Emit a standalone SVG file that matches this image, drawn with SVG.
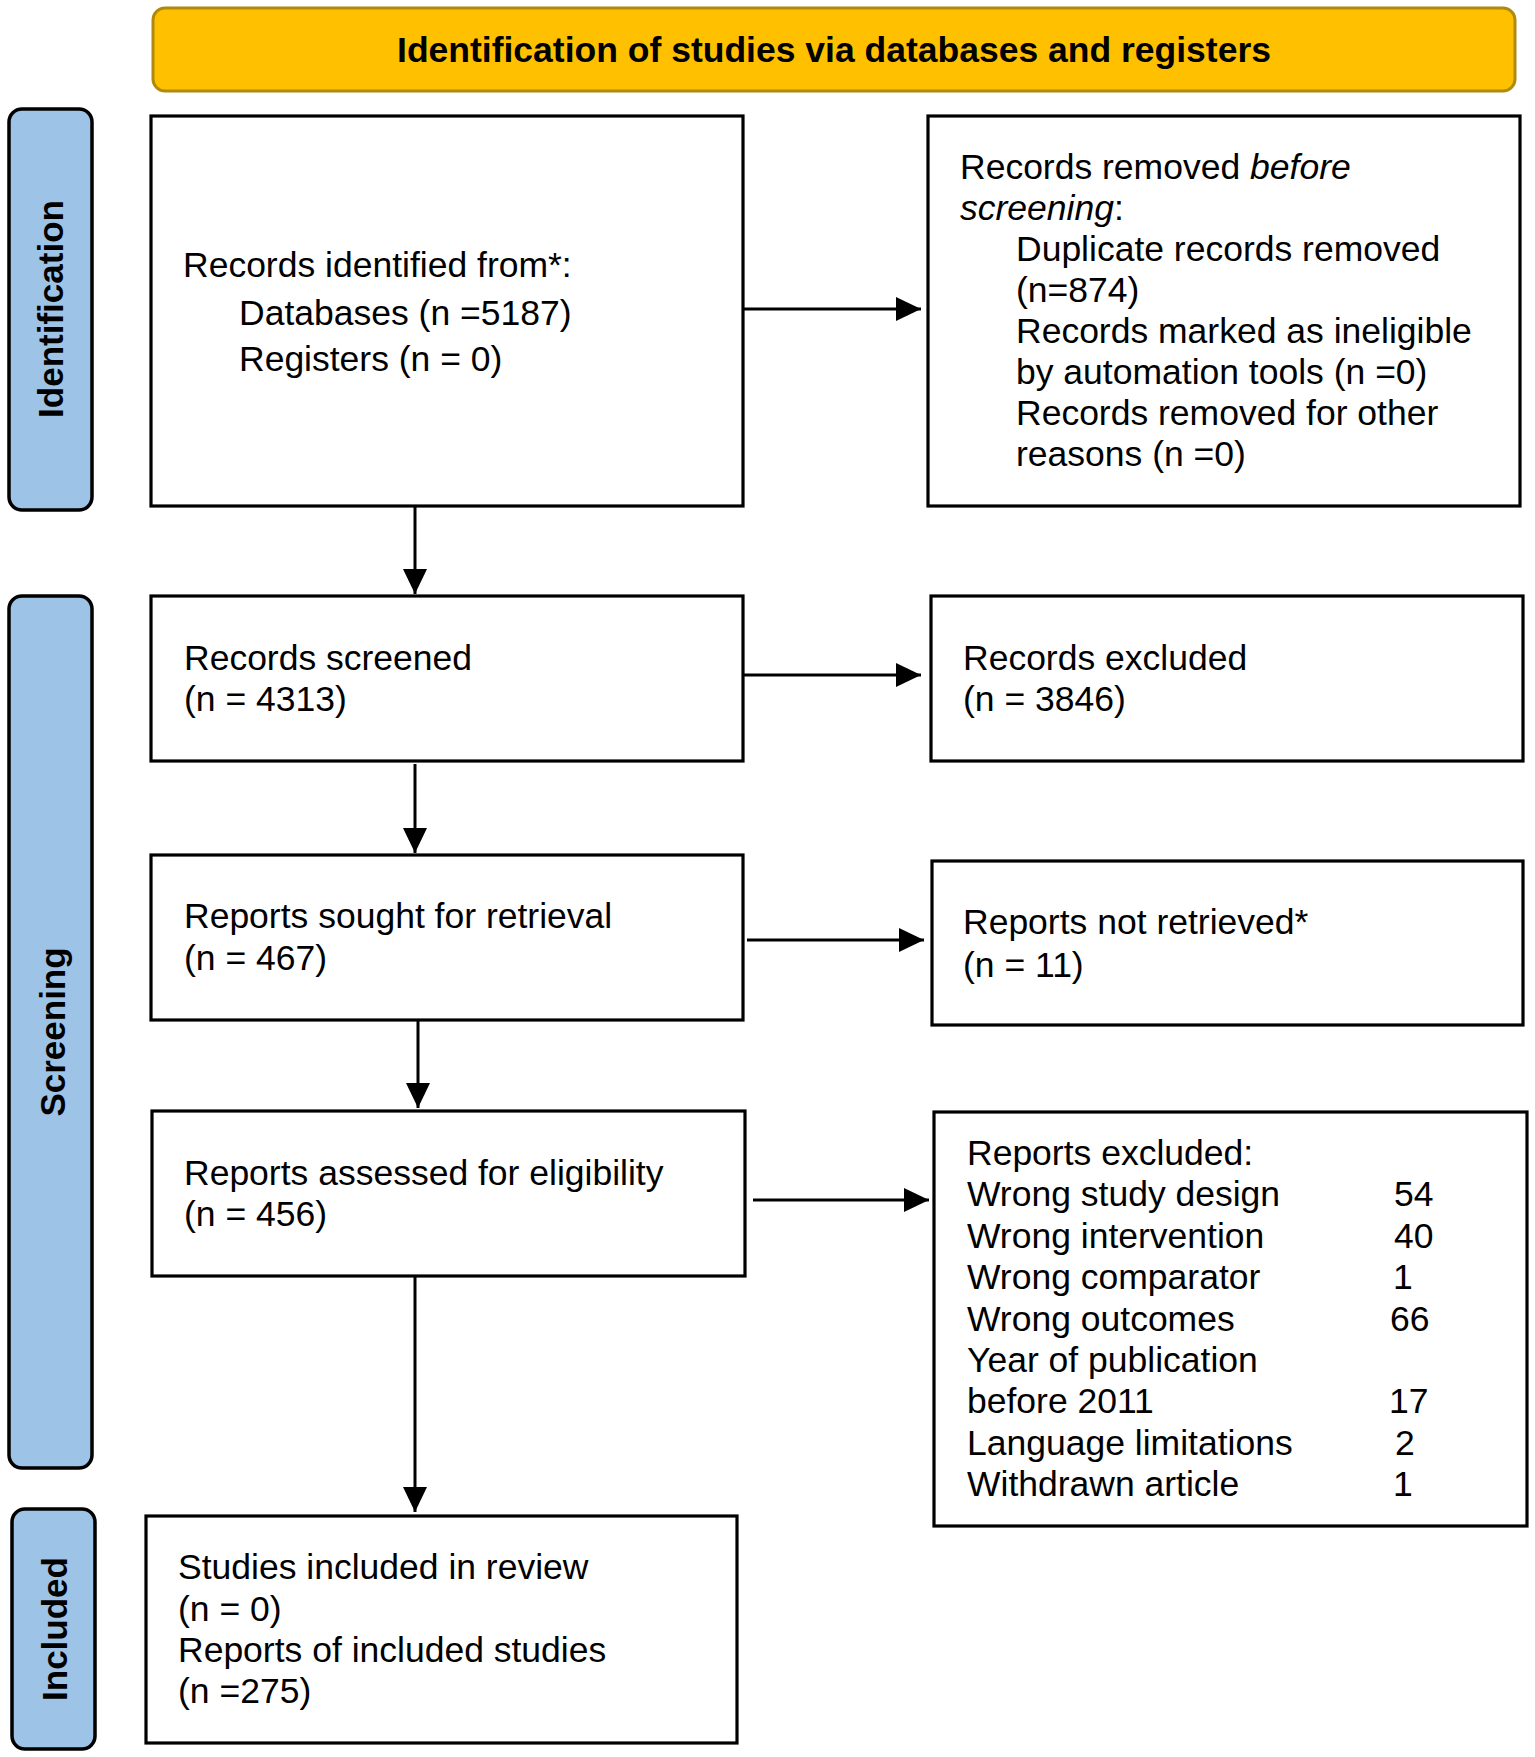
<svg xmlns="http://www.w3.org/2000/svg" width="1535" height="1757" viewBox="0 0 1535 1757">
<style>
.box{fill:#ffffff;stroke:#000000;stroke-width:3.2}
.side{fill:#9dc3e6;stroke:#000000;stroke-width:3.5}
.hdr{fill:#ffc000;stroke:#b08a0a;stroke-width:3}
.t{font-family:"Liberation Sans",Arial,sans-serif;font-size:35.5px;fill:#000000}
.b{font-family:"Liberation Sans",Arial,sans-serif;font-size:35.5px;font-weight:bold;fill:#000000}
.lbl{font-family:"Liberation Sans",Arial,sans-serif;font-size:35px;font-weight:bold;fill:#000000;text-anchor:middle}
.it{font-style:italic}
.c{fill:none;stroke:#000000;stroke-width:3}
</style>
<defs>
<marker id="ah" markerUnits="userSpaceOnUse" markerWidth="25" markerHeight="24" refX="25" refY="12" orient="auto">
<path d="M0,0 L25,12 L0,24 z" fill="#000000"/>
</marker>
</defs>
<rect width="1535" height="1757" fill="#ffffff"/>

<g id="header">
<rect class="hdr" x="153" y="8" width="1362" height="83" rx="12"/>
<text class="b" x="834" y="62" text-anchor="middle">Identification of studies via databases and registers</text>
</g>

<g id="phase-identification">
<rect class="side" x="9" y="109" width="83" height="401" rx="13"/>
<text class="lbl" transform="translate(63,309) rotate(-90)">Identification</text>
</g>
<g id="phase-screening">
<rect class="side" x="9" y="596" width="83" height="872" rx="13"/>
<text class="lbl" transform="translate(65,1032) rotate(-90)">Screening</text>
</g>
<g id="phase-included">
<rect class="side" x="12" y="1509" width="83" height="240" rx="13"/>
<text class="lbl" transform="translate(67,1629) rotate(-90)">Included</text>
</g>

<g id="n-identified">
<rect class="box" x="151" y="116" width="592" height="390"/>
<text class="t" x="183" y="277">Records identified from*:</text>
<text class="t" x="239" y="325">Databases (n =5187)</text>
<text class="t" x="239" y="371">Registers (n = 0)</text>
</g>

<g id="n-removed">
<rect class="box" x="928" y="116" width="592" height="390"/>
<text class="t" x="960" y="179">Records removed <tspan class="it">before</tspan></text>
<text class="t" x="960" y="220"><tspan class="it">screening</tspan>:</text>
<text class="t" x="1016" y="261">Duplicate records removed</text>
<text class="t" x="1016" y="302">(n=874)</text>
<text class="t" x="1016" y="343">Records marked as ineligible</text>
<text class="t" x="1016" y="384">by automation tools (n =0)</text>
<text class="t" x="1016" y="425">Records removed for other</text>
<text class="t" x="1016" y="466">reasons (n =0)</text>
</g>

<g id="n-screened">
<rect class="box" x="151" y="596" width="592" height="165"/>
<text class="t" x="184" y="670">Records screened</text>
<text class="t" x="184" y="711">(n = 4313)</text>
</g>

<g id="n-excluded">
<rect class="box" x="931" y="596" width="592" height="165"/>
<text class="t" x="963" y="670">Records excluded</text>
<text class="t" x="963" y="711">(n = 3846)</text>
</g>

<g id="n-sought">
<rect class="box" x="151" y="855" width="592" height="165"/>
<text class="t" x="184" y="928">Reports sought for retrieval</text>
<text class="t" x="184" y="970">(n = 467)</text>
</g>

<g id="n-notretrieved">
<rect class="box" x="932" y="861" width="591" height="164"/>
<text class="t" x="963" y="934">Reports not retrieved*</text>
<text class="t" x="963" y="977">(n = 11)</text>
</g>

<g id="n-assessed">
<rect class="box" x="152" y="1111" width="593" height="165"/>
<text class="t" x="184" y="1185">Reports assessed for eligibility</text>
<text class="t" x="184" y="1226">(n = 456)</text>
</g>

<g id="n-reportsexcluded">
<rect class="box" x="934" y="1112" width="593" height="414"/>
<text class="t" x="967" y="1165">Reports excluded:</text>
<text class="t" x="967" y="1206">Wrong study design</text>
<text class="t" x="1394" y="1206">54</text>
<text class="t" x="967" y="1248">Wrong intervention</text>
<text class="t" x="1394" y="1248">40</text>
<text class="t" x="967" y="1289">Wrong comparator</text>
<text class="t" x="1393" y="1289">1</text>
<text class="t" x="967" y="1331">Wrong outcomes</text>
<text class="t" x="1390" y="1331">66</text>
<text class="t" x="967" y="1372">Year of publication</text>
<text class="t" x="967" y="1413">before 2011</text>
<text class="t" x="1389" y="1413">17</text>
<text class="t" x="967" y="1455">Language limitations</text>
<text class="t" x="1395" y="1455">2</text>
<text class="t" x="967" y="1496">Withdrawn article</text>
<text class="t" x="1393" y="1496">1</text>
</g>

<g id="n-included">
<rect class="box" x="146" y="1516" width="591" height="227"/>
<text class="t" x="178" y="1579">Studies included in review</text>
<text class="t" x="178" y="1621">(n = 0)</text>
<text class="t" x="178" y="1662">Reports of included studies</text>
<text class="t" x="178" y="1703">(n =275)</text>
</g>

<g id="connectors">
<line class="c" x1="743" y1="309" x2="921" y2="309" marker-end="url(#ah)"/>
<line class="c" x1="743" y1="675" x2="921" y2="675" marker-end="url(#ah)"/>
<line class="c" x1="747" y1="940" x2="924" y2="940" marker-end="url(#ah)"/>
<line class="c" x1="753" y1="1200" x2="929" y2="1200" marker-end="url(#ah)"/>
<line class="c" x1="415" y1="506" x2="415" y2="594" marker-end="url(#ah)"/>
<line class="c" x1="415" y1="764" x2="415" y2="853" marker-end="url(#ah)"/>
<line class="c" x1="418" y1="1020" x2="418" y2="1108" marker-end="url(#ah)"/>
<line class="c" x1="415" y1="1277" x2="415" y2="1512" marker-end="url(#ah)"/>
</g>
</svg>
